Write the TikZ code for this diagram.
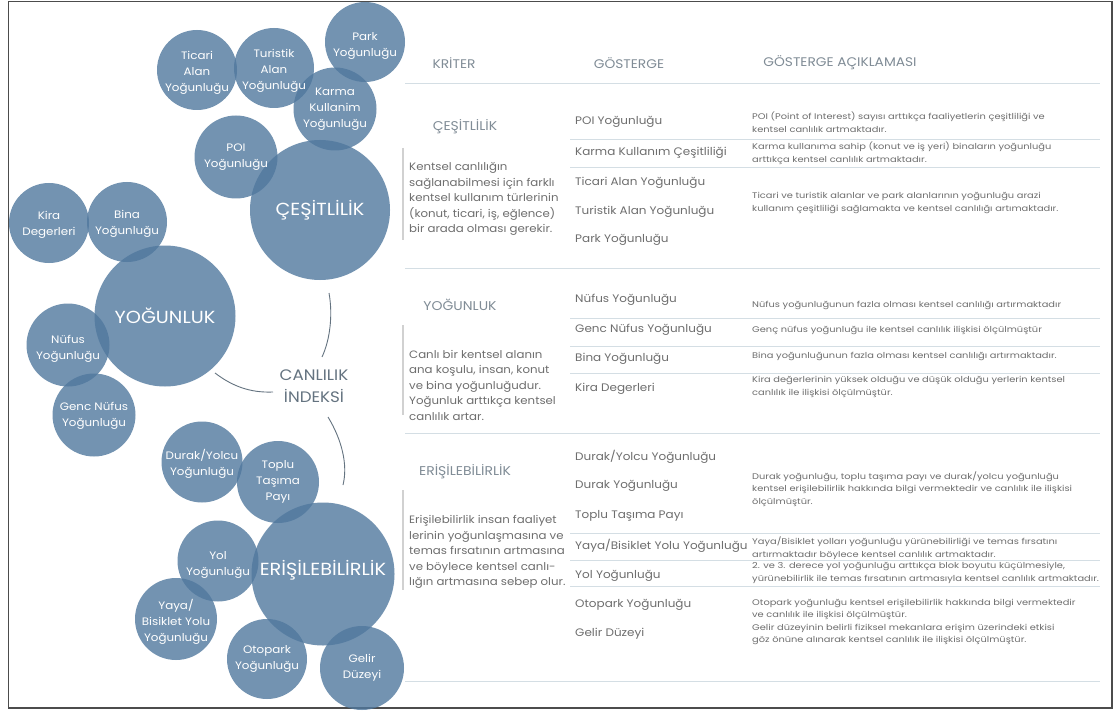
\documentclass[tikz,border=0pt]{standalone}
\usepackage{fontspec}
\setmainfont{Poppins}[FakeStretch=1.1]
\newfontfamily\descfont{Poppins}[FakeStretch=1.2]
\definecolor{bubc}{RGB}{80,120,158}
\definecolor{hdrc}{RGB}{128,140,150}
\definecolor{txtc}{RGB}{110,110,110}
\definecolor{rulec}{RGB}{212,222,228}
\definecolor{canc}{RGB}{100,115,128}
\begin{document}
\begin{tikzpicture}[x=1pt,y=-1pt,
  bub/.style={circle,fill=bubc,fill opacity=0.8,draw=none,inner sep=0pt},
  btxt/.style={text=white,align=center,font=\fontsize{10.8}{16}\selectfont,inner sep=0pt},
  bigtxt/.style={text=white,font=\fontsize{17.5}{20}\selectfont,inner sep=0pt},
  hdr/.style={text=hdrc,font=\fontsize{12.5}{14}\selectfont,inner sep=0pt},
  crit/.style={text=hdrc,font=\fontsize{12.7}{14}\selectfont,inner sep=0pt},
  ind/.style={text=txtc,font=\fontsize{10.9}{13}\selectfont,anchor=west,inner sep=0pt},
  desc/.style={text=txtc,font=\descfont\fontsize{8.2}{12.6}\selectfont,anchor=west,align=left,inner sep=0pt},
  body/.style={text=txtc,font=\fontsize{10.7}{15.5}\selectfont,anchor=west,align=left,inner sep=0pt},
  rule/.style={draw=rulec,line width=1pt},
  vbar/.style={draw=black!18,line width=1.2pt},
  arc/.style={draw=canc,line width=0.9pt}
]
\useasboundingbox (0,0) rectangle (1115,711);
\fill[white] (0,0) rectangle (1115,711);
\draw[black!70,line width=1.5pt] (8.5,1.5) rectangle (1112,708);

% ---- bubbles (fills) ----
\node[bub,minimum size=80pt] (ticari) at (197,70) {};
\node[bub,minimum size=80pt] (turistik) at (274,68) {};
\node[bub,minimum size=80pt] (park) at (365,42) {};
\node[bub,minimum size=83pt] (karma) at (335,109) {};
\node[bub,minimum size=83pt] (poi) at (236,157) {};
\node[bub,minimum size=140pt] (cesit) at (320,210) {};
\node[bub,minimum size=80pt] (kira) at (49,223) {};
\node[bub,minimum size=80pt] (bina) at (127,222) {};
\node[bub,minimum size=141pt] (yog) at (165,316) {};
\node[bub,minimum size=83pt] (nufus) at (68,345) {};
\node[bub,minimum size=83pt] (genc) at (94,415) {};
\node[bub,minimum size=81pt] (durak) at (202,462) {};
\node[bub,minimum size=82pt] (toplu) at (278,482) {};
\node[bub,minimum size=143pt] (eris) at (323,574) {};
\node[bub,minimum size=81pt] (yol) at (218,561) {};
\node[bub,minimum size=82pt] (yaya) at (176,619) {};
\node[bub,minimum size=80pt] (otopark) at (267,659) {};
\node[bub,minimum size=84pt] (gelir) at (362,668) {};

% ---- bubble texts ----
\node[btxt] at ([yshift=-3pt]ticari) {Ticari\\Alan\\Yoğunluğu};
\node[btxt] at ([yshift=-3pt]turistik) {Turistik\\Alan\\Yoğunluğu};
\node[btxt] at ([yshift=-4pt]park) {Park\\Yoğunluğu};
\node[btxt] at (karma) {Karma\\Kullanim\\Yoğunluğu};
\node[btxt] at (poi) {POI\\Yoğunluğu};
\node[bigtxt] at (cesit) {ÇEŞİTLİLİK};
\node[btxt] at ([yshift=-2pt]kira) {Kira\\Degerleri};
\node[btxt] at ([yshift=-2pt]bina) {Bina\\Yoğunluğu};
\node[bigtxt] at (yog) {YOĞUNLUK};
\node[btxt] at ([yshift=-4pt]nufus) {Nüfus\\Yoğunluğu};
\node[btxt] at ([yshift=-1pt]genc) {Genc Nüfus\\Yoğunluğu};
\node[btxt] at ([yshift=-2pt]durak) {Durak/Yolcu\\Yoğunluğu};
\node[btxt] at (toplu) {Toplu\\Taşıma\\Payı};
\node[bigtxt] at ([yshift=4pt]eris) {ERİŞİLEBİLİRLİK};
\node[btxt] at ([yshift=-4pt]yol) {Yol\\Yoğunluğu};
\node[btxt] at ([yshift=-3pt]yaya) {Yaya/\\Bisiklet Yolu\\Yoğunluğu};
\node[btxt] at (otopark) {Otopark\\Yoğunluğu};
\node[btxt] at (gelir) {Gelir\\Düzeyi};

% ---- centre label and arcs ----
\node[text=canc,align=center,font=\fontsize{15.2}{22}\selectfont,inner sep=0pt] (canl) at (314,386) {CANLILIK\\İNDEKSİ};
\coordinate (a1s) at (329,293);
\coordinate (a1e) at (322,357);
\coordinate (a2s) at (215,373);
\coordinate (a2e) at (273,392);
\coordinate (a3s) at (328,417);
\coordinate (a3e) at (343,485);
\draw[arc] (a1s) .. controls (333,315) and (330,340) .. (a1e);
\draw[arc] (a2s) .. controls (232,386) and (250,393) .. (a2e);
\draw[arc] (a3s) .. controls (342,440) and (348,465) .. (a3e);

% ---- table header ----
\node[hdr] (h1) at (454,63) {KRİTER};
\node[hdr] (h2) at (629,63) {GÖSTERGE};
\node[hdr] (h3) at (840,63) {GÖSTERGE AÇIKLAMASI};
\draw[rule] (405,84) -- (1100,84);

% ---- section 1 ----
\node[crit] (c1) at (465,127) {ÇEŞİTLİLİK};
\draw[vbar] (403,148) -- (403,240);
\node[body] at (409,199) {Kentsel canlılığın\\sağlanabilmesi için farklı\\kentsel kullanım türlerinin\\(konut, ticari, iş, eğlence)\\bir arada olması gerekir.};
\node[ind] at (575,122) {POI Yoğunluğu};
\draw[rule] (570,140) -- (1100,140);
\node[ind] at (575,153) {Karma Kullanım Çeşitliliği};
\draw[rule] (570,168) -- (1100,168);
\node[ind] at (575,183) {Ticari Alan Yoğunluğu};
\node[ind] at (575,212) {Turistik Alan Yoğunluğu};
\node[ind] at (575,240) {Park Yoğunluğu};
\node[desc] at (752,122) {POI (Point of Interest) sayısı arttıkça faaliyetlerin çeşitliliği ve\\kentsel canlılık artmaktadır.};
\node[desc] at (752,153) {Karma kullanıma sahip (konut ve iş yeri) binaların yoğunluğu\\arttıkça kentsel canlılık artmaktadır.};
\node[desc] at (752,203) {Ticari ve turistik alanlar ve park alanlarının yoğunluğu arazi\\kullanım çeşitliliği sağlamakta ve kentsel canlılığı artımaktadır.};
\draw[rule] (405,268) -- (1100,268);

% ---- section 2 ----
\node[crit] (c2) at (460,305) {YOĞUNLUK};
\draw[vbar] (403,325) -- (403,415);
\node[body] at (409,385) {Canlı bir kentsel alanın\\ana koşulu, insan, konut\\ve bina yoğunluğudur.\\Yoğunluk arttıkça kentsel\\canlılık artar.};
\node[ind] at (575,300) {Nüfus Yoğunluğu};
\node[desc] at (752,305) {Nüfus yoğunluğunun fazla olması kentsel canlılığı artırmaktadır};
\draw[rule] (570,318) -- (1100,318);
\node[ind] at (575,330) {Genc Nüfus Yoğunluğu};
\node[desc] at (752,330) {Genç nüfus yoğunluğu ile kentsel canlılık ilişkisi ölçülmüştür};
\draw[rule] (570,346) -- (1100,346);
\node[ind] at (575,359) {Bina Yoğunluğu};
\node[desc] at (752,356) {Bina yoğunluğunun fazla olması kentsel canlılığı artırmaktadır.};
\draw[rule] (570,373) -- (1100,373);
\node[ind] at (575,389) {Kira Degerleri};
\node[desc] at (752,387) {Kira değerlerinin yüksek olduğu ve düşük olduğu yerlerin kentsel\\canlılık ile ilişkisi ölçülmüştür.};
\draw[rule] (405,433) -- (1100,433);

% ---- section 3 ----
\node[crit] (c3) at (465,472) {ERİŞİLEBİLİRLİK};
\draw[vbar] (403,490) -- (403,590);
\node[body] at (409,552) {Erişilebilirlik insan faaliyet\\lerinin yoğunlaşmasına ve\\temas fırsatının artmasına\\ve böylece kentsel canlı-\\lığın artmasına sebep olur.};
\node[ind] at (575,457) {Durak/Yolcu Yoğunluğu};
\node[ind] at (575,486) {Durak Yoğunluğu};
\node[ind] at (575,516) {Toplu Taşıma Payı};
\node[desc] at (752,489) {Durak yoğunluğu, toplu taşıma payı ve durak/yolcu yoğunluğu\\kentsel erişilebilirlik hakkında bilgi vermektedir ve canlılık ile ilişkisi\\ölçülmüştür.};
\draw[rule] (570,533) -- (1100,533);
\node[ind] at (575,546) {Yaya/Bisiklet Yolu Yoğunluğu};
\node[desc] at (752,548) {Yaya/Bisiklet yolları yoğunluğu yürünebilirliği ve temas fırsatını\\artırmaktadır böylece kentsel canlılık artmaktadır.};
\draw[rule] (570,560) -- (1100,560);
\node[ind] at (575,576) {Yol Yoğunluğu};
\node[desc] at (752,573) {2. ve 3. derece yol yoğunluğu arttıkça blok boyutu küçülmesiyle,\\yürünebilirlik ile temas fırsatının artmasıyla kentsel canlılık artmaktadır.};
\draw[rule] (570,586) -- (1100,586);
\node[ind] at (575,605) {Otopark Yoğunluğu};
\node[ind] at (575,634) {Gelir Düzeyi};
\node[desc] at (752,622) {Otopark yoğunluğu kentsel erişilebilirlik hakkında bilgi vermektedir\\ve canlılık ile ilişkisi ölçülmüştür.\\Gelir düzeyinin belirli fiziksel mekanlara erişim üzerindeki etkisi\\göz önüne alınarak kentsel canlılık ile ilişkisi ölçülmüştür.};
\draw[rule] (405,681) -- (1100,681);
\end{tikzpicture}
\end{document}
